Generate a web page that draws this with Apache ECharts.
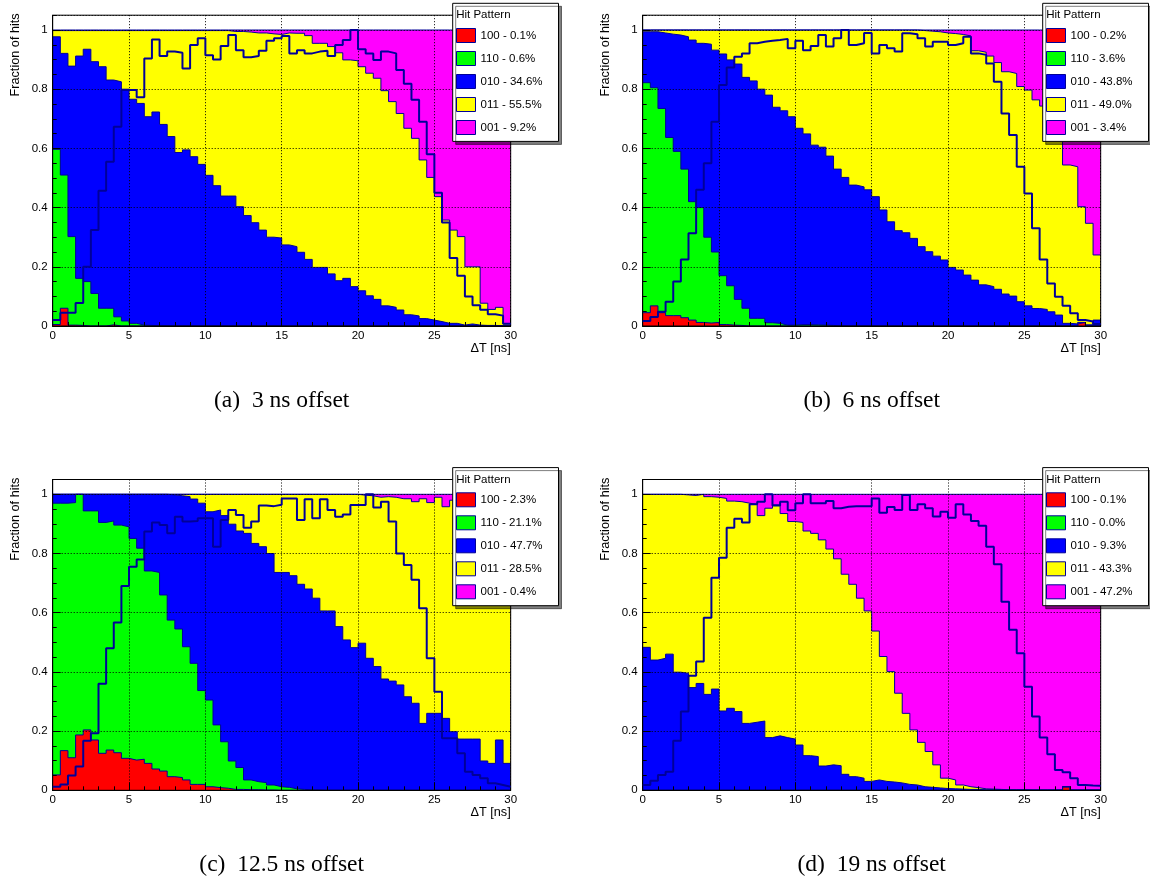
<!DOCTYPE html>
<html><head><meta charset="utf-8">
<script src="https://cdn.jsdelivr.net/npm/echarts@6/dist/echarts.min.js"></script>
<style>html,body{margin:0;padding:0;background:#fff}#c{width:1150px;height:879px}</style>
</head><body><div id="c"></div>
<script>
// ---------------- data (fractions of hits per 0.5 ns bin, 0..30 ns) ----------------
// Cumulative stack levels: cumXXX = fraction of hits whose
// pattern is XXX or any pattern stacked below it (100 < 110 < 010 < 011 < 001).
const binWidth = 0.5;
const xTickValues = [0, 5, 10, 15, 20, 25, 30];
const yTickValues = [0, 0.2, 0.4, 0.6, 0.8, 1];
const patterns = ['100', '110', '010', '011', '001'];

const allHits = [1,1,1,1,1,1,1,1,1,1, 1,1,1,1,1,1,1,1,1,1, 1,1,1,1,1,1,1,1,1,1, 1,1,1,1,1,1,1,1,1,1, 1,1,1,1,1,1,1,1,1,1, 1,1,1,1,1,1,1,1,1,1];

// (a) 3 ns offset
const a_labels = ['100 - 0.1%', '110 - 0.6%', '010 - 34.6%', '011 - 55.5%', '001 - 9.2%'];
const a_cum100 = [0.005,0.06,0.003,0.002,0,0,0,0.004,0,0, 0,0,0,0,0,0,0,0,0,0, 0,0,0,0,0,0,0,0,0,0, 0,0,0,0,0,0,0,0,0,0, 0,0,0,0,0,0,0,0,0,0, 0,0,0,0,0,0,0,0,0,0];
const a_cum110 = [0.597,0.51,0.302,0.161,0.15,0.11,0.06,0.06,0.031,0.017, 0.009,0.003,0.002,0.001,0.001,0,0,0,0,0, 0,0,0,0,0,0,0,0,0,0, 0,0,0,0,0,0,0,0,0,0, 0,0,0,0,0,0,0,0,0,0, 0,0,0,0,0,0,0,0,0,0];
const a_cum010 = [0.977,0.921,0.878,0.912,0.935,0.893,0.876,0.831,0.825,0.8, 0.766,0.752,0.707,0.723,0.681,0.64,0.586,0.595,0.572,0.546, 0.509,0.474,0.439,0.439,0.403,0.373,0.349,0.324,0.3,0.297, 0.274,0.268,0.249,0.225,0.198,0.198,0.176,0.153,0.161,0.133, 0.119,0.102,0.09,0.068,0.063,0.054,0.038,0.034,0.025,0.02, 0.015,0.009,0.009,0.003,0.007,0.003,0.002,0.002,0.001,0.001];
const a_cum011 = [0.998,0.998,0.998,0.998,0.998,0.998,0.998,0.998,0.998,0.998, 0.998,0.998,0.998,0.998,0.998,0.998,0.998,0.998,0.998,0.998, 0.998,0.998,0.998,0.995,0.995,0.993,0.99,0.99,0.987,0.985, 0.99,0.989,0.989,0.981,0.955,0.955,0.944,0.923,0.899,0.896, 0.876,0.854,0.837,0.795,0.758,0.718,0.668,0.634,0.561,0.502, 0.437,0.358,0.324,0.302,0.2,0.2,0.077,0.056,0.063,0.007];
const a_eff = [0.02,0.045,0.045,0.078,0.2,0.324,0.457,0.555,0.673,0.797, 0.797,0.773,0.904,0.968,0.912,0.927,0.923,0.87,0.949,0.972, 0.915,0.9,0.946,0.983,0.932,0.908,0.912,0.93,0.964,0.972, 0.98,0.921,0.932,0.921,0.927,0.93,0.912,0.949,0.966,1.0, 0.935,0.921,0.899,0.927,0.921,0.865,0.818,0.764,0.69,0.58, 0.45,0.35,0.23,0.17,0.1,0.07,0.055,0.04,0.035,0.008];

// (b) 6 ns offset
const b_labels = ['100 - 0.2%', '110 - 3.6%', '010 - 43.8%', '011 - 49.0%', '001 - 3.4%'];
const b_cum100 = [0.045,0.068,0.045,0.035,0.035,0.028,0.02,0.012,0.01,0.012, 0.005,0.003,0.002,0,0,0,0,0,0,0, 0,0,0,0,0,0,0,0,0,0, 0,0,0,0,0,0,0,0,0,0, 0,0,0,0,0,0,0,0,0,0, 0,0,0,0,0,0,0,0.012,0,0];
const b_cum110 = [0.822,0.805,0.735,0.637,0.59,0.53,0.42,0.4,0.3,0.25, 0.17,0.136,0.09,0.06,0.026,0.026,0.011,0.009,0.003,0.003, 0.005,0.005,0.004,0.003,0.002,0,0,0,0,0, 0,0,0,0,0,0,0,0,0,0, 0,0,0,0,0,0,0,0,0,0, 0,0,0,0,0,0,0,0.012,0,0];
const b_cum010 = [0.994,0.994,0.99,0.986,0.983,0.977,0.966,0.955,0.952,0.932, 0.919,0.899,0.885,0.84,0.828,0.8,0.78,0.739,0.727,0.707, 0.668,0.649,0.611,0.604,0.574,0.53,0.502,0.476,0.47,0.46, 0.437,0.392,0.352,0.322,0.315,0.296,0.268,0.251,0.236,0.223, 0.198,0.189,0.172,0.155,0.139,0.133,0.124,0.108,0.101,0.082, 0.068,0.059,0.056,0.048,0.037,0.009,0.007,0.012,0.004,0.02];
const b_cum011 = [1,1,1,1,1,1,1,1,1,1, 1,1,1,1,1,1,1,1,1,1, 1,1,1,1,1,1,1,1,1,1, 1,1,1,1,1,1,0.998,0.996,0.994,0.99, 0.988,0.985,0.98,0.93,0.925,0.912,0.89,0.859,0.853,0.809, 0.797,0.764,0.743,0.736,0.696,0.544,0.538,0.403,0.347,0.24];
const b_eff = [0.017,0.03,0.048,0.082,0.15,0.225,0.313,0.46,0.55,0.69, 0.814,0.873,0.91,0.921,0.955,0.96,0.964,0.966,0.97,0.938, 0.964,0.932,0.946,0.983,0.944,0.972,1.0,0.949,0.955,0.99, 0.921,0.949,0.938,0.927,0.989,0.986,0.972,0.944,0.96,0.96, 0.949,0.955,0.977,0.921,0.916,0.887,0.825,0.718,0.645,0.538, 0.448,0.33,0.225,0.144,0.099,0.068,0.043,0.02,0.015,0.007];

// (c) 12.5 ns offset
const c_labels = ['100 - 2.3%', '110 - 21.1%', '010 - 47.7%', '011 - 28.5%', '001 - 0.4%'];
const c_cum100 = [0.052,0.134,0.11,0.187,0.204,0.17,0.125,0.136,0.127,0.108, 0.102,0.105,0.091,0.072,0.065,0.046,0.043,0.035,0.02,0.02, 0.012,0.009,0.007,0.003,0.003,0.002,0.002,0.001,0.001,0, 0,0,0,0,0,0,0,0,0,0, 0,0,0,0,0,0,0,0,0,0, 0,0,0,0,0,0,0,0,0,0];
const c_cum110 = [0.97,0.97,0.972,1.0,0.944,0.944,0.905,0.91,0.896,0.89, 0.851,0.818,0.741,0.736,0.66,0.575,0.545,0.485,0.429,0.337, 0.305,0.221,0.164,0.099,0.077,0.035,0.029,0.026,0.018,0.012, 0.01,0.005,0.003,0.002,0.001,0,0,0,0,0, 0,0,0,0,0,0,0,0,0,0, 0,0,0,0,0,0,0,0,0,0];
const c_cum010 = [1,1,1,1,1,1,1,1,1,1, 1,1,1,1,1,0.998,0.995,0.992,0.984,0.97, 0.941,0.947,0.928,0.899,0.876,0.868,0.834,0.823,0.8,0.736, 0.736,0.725,0.696,0.68,0.649,0.606,0.606,0.553,0.508,0.482, 0.497,0.446,0.418,0.376,0.369,0.356,0.316,0.294,0.226,0.26, 0.26,0.243,0.198,0.173,0.173,0.173,0.099,0.091,0.17,0.091];
const c_cum011 = [1,1,1,1,1,1,1,1,1,1, 1,1,1,1,1,1,1,1,1,1, 1,1,1,1,1,1,1,1,1,1, 1,1,1,1,1,1,1,1,1,1, 0.997,0.995,0.99,0.992,0.99,0.985,0.985,0.975,0.985,0.972, 0.99,0.958,0.98,0.99,0.995,0.995,1,1,1,1];
const c_eff = [0.012,0.02,0.05,0.08,0.167,0.193,0.36,0.48,0.567,0.69, 0.755,0.78,0.874,0.905,0.896,0.868,0.924,0.908,0.91,0.919, 0.919,0.823,0.913,0.947,0.93,0.887,0.908,0.962,0.96,0.965, 0.986,0.986,0.913,0.983,0.919,0.983,0.947,0.924,0.932,0.964, 0.964,1.0,0.955,0.975,0.908,0.8,0.761,0.711,0.615,0.446, 0.333,0.176,0.176,0.125,0.063,0.052,0.041,0.024,0.018,0.012];

// (d) 19 ns offset
const d_labels = ['100 - 0.1%', '110 - 0.0%', '010 - 9.3%', '011 - 43.3%', '001 - 47.2%'];
const d_cum100 = [0,0,0,0,0,0,0,0,0,0, 0,0,0,0,0,0,0,0,0,0, 0,0,0,0,0,0,0,0,0,0, 0,0,0,0,0,0,0,0,0,0, 0,0,0,0,0,0,0,0,0,0, 0,0,0,0,0,0.012,0,0,0,0];
const d_cum110 = [0,0,0,0,0,0,0,0,0,0, 0,0,0,0,0,0,0,0,0,0, 0,0,0,0,0,0,0,0,0,0, 0,0,0,0,0,0,0,0,0,0, 0,0,0,0,0,0,0,0,0,0, 0,0,0,0,0,0.012,0,0,0,0];
const d_cum010 = [0.483,0.44,0.446,0.46,0.399,0.395,0.347,0.361,0.324,0.342, 0.268,0.277,0.266,0.226,0.23,0.234,0.178,0.184,0.178,0.173, 0.153,0.117,0.114,0.082,0.086,0.083,0.054,0.046,0.041,0.03, 0.035,0.03,0.028,0.025,0.02,0.018,0.012,0.01,0.008,0.006, 0.005,0.004,0.003,0.003,0.002,0.002,0.002,0.001,0.001,0.001, 0.001,0.001,0.001,0.001,0.001,0.012,0.001,0.001,0.001,0.001];
const d_cum011 = [1,1,1,1,1,0.998,0.996,1,0.992,0.99, 0.986,0.977,0.975,0.97,0.966,0.928,0.953,0.964,0.935,0.908, 0.905,0.876,0.868,0.846,0.815,0.782,0.73,0.696,0.649,0.606, 0.538,0.452,0.401,0.328,0.26,0.204,0.162,0.131,0.086,0.041, 0.035,0.018,0.012,0.009,0.005,0.004,0.003,0.002,0.002,0.002, 0.001,0.001,0.001,0.001,0.001,0.012,0.001,0.001,0.001,0.001];
const d_eff = [0.018,0.032,0.052,0.063,0.167,0.266,0.387,0.435,0.583,0.718, 0.786,0.887,0.917,0.905,0.966,0.975,1.0,0.962,0.975,0.946, 0.97,1.0,0.97,0.97,0.977,0.953,0.958,0.96,0.96,0.96, 0.986,0.938,0.957,0.947,0.998,0.947,0.966,0.953,0.925,0.941, 0.921,0.966,0.932,0.91,0.894,0.823,0.764,0.637,0.542,0.463, 0.35,0.249,0.178,0.122,0.069,0.061,0.041,0.018,0.016,0.015];

const captions = ['(a)  3 ns offset', '(b)  6 ns offset', '(c)  12.5 ns offset', '(d)  19 ns offset'];

// ---------------- chart ----------------
const panels = [
  { labels: a_labels, levels: [a_cum100, a_cum110, a_cum010, a_cum011, allHits], eff: a_eff },
  { labels: b_labels, levels: [b_cum100, b_cum110, b_cum010, b_cum011, allHits], eff: b_eff },
  { labels: c_labels, levels: [c_cum100, c_cum110, c_cum010, c_cum011, allHits], eff: c_eff },
  { labels: d_labels, levels: [d_cum100, d_cum110, d_cum010, d_cum011, allHits], eff: d_eff }
];
const FILL = ['#ff0000', '#00ff00', '#0000ff', '#ffff00', '#ff00ff'];
const OUTLINE = '#000099';
const FONT = '"Liberation Sans", Arial, Helvetica, sans-serif';
const GRID_W = 458, GRID_H = 310.8;
const pos = [
  { left: 52.7, top: 15.2 }, { left: 642.7, top: 15.2 },
  { left: 52.7, top: 479.5 }, { left: 642.7, top: 479.5 }
];

function toSteps(vals) {
  const pts = vals.map((v, i) => [i * binWidth, v]);
  pts.push([vals.length * binWidth, vals[vals.length - 1]]);
  return pts;
}

const grid = [], xAxis = [], yAxis = [], series = [], legend = [], graphic = [];
const xMin = xTickValues[0], xMax = xTickValues[xTickValues.length - 1];
const xInt = xTickValues[1] - xTickValues[0];
const yInt = yTickValues[1] - yTickValues[0];
const yTop = 1.05;

panels.forEach((p, gi) => {
  const P = pos[gi];
  grid.push({ left: P.left, top: P.top, width: GRID_W, height: GRID_H, show: true,
    borderColor: '#000', borderWidth: 1, backgroundColor: 'transparent', z: 5,
    containLabel: false, outerBoundsMode: 'none' });
  xAxis.push({ gridIndex: gi, type: 'value', min: xMin, max: xMax, interval: xInt, z: 6,
    axisLine: { show: true, onZero: false, lineStyle: { color: '#000', width: 1 } },
    axisTick: { show: true, inside: true, length: 8, lineStyle: { color: '#000', width: 1 } },
    minorTick: { show: true, splitNumber: 5, length: 4, lineStyle: { color: '#000', width: 1 } },
    axisLabel: { color: '#000', fontSize: 11.5, fontFamily: FONT, margin: 4 },
    splitLine: { show: true, lineStyle: { color: '#000', width: 1, type: [1, 2] } }
  });
  yAxis.push({ gridIndex: gi, type: 'value', min: 0, max: yTop, interval: yInt, z: 6, position: 'left',
    axisLine: { show: true, onZero: false, lineStyle: { color: '#000', width: 1 } },
    axisTick: { show: true, inside: true, length: 8, lineStyle: { color: '#000', width: 1 } },
    axisLabel: { color: '#000', fontSize: 11.5, fontFamily: FONT, margin: 5, showMaxLabel: false,
      formatter: v => (Math.abs(v - yTop) < 1e-9 ? '' : String(+v.toFixed(2))) },
    splitLine: { show: true, lineStyle: { color: '#000', width: 1, type: [1, 2] } }
  });
  // second left axis only for the 0.05 minor ticks
  yAxis.push({ gridIndex: gi, type: 'value', min: 0, max: yTop, interval: 0.05, z: 6, position: 'left', offset: 0,
    axisLine: { show: false }, axisLabel: { show: false }, splitLine: { show: false },
    axisTick: { show: true, inside: true, length: 4, lineStyle: { color: '#000', width: 1 } }
  });
  // stacked fractions: draw from the top level (001) down to 100
  for (let k = 4; k >= 0; k--) {
    series.push({ type: 'line', name: p.labels[k], xAxisIndex: gi, yAxisIndex: gi * 2,
      data: toSteps(p.levels[k]), step: 'end', symbol: 'none', showSymbol: false, silent: true,
      animation: false, z: 2, clip: true,
      itemStyle: { color: FILL[k] },
      lineStyle: { color: OUTLINE, width: 1 },
      areaStyle: { color: FILL[k], opacity: 1 },
      emphasis: { disabled: true }
    });
  }
  series.push({ type: 'line', name: 'efficiency', xAxisIndex: gi, yAxisIndex: gi * 2,
    data: toSteps(p.eff), step: 'end', symbol: 'none', showSymbol: false, silent: true,
    animation: false, z: 7, clip: true,
    lineStyle: { color: OUTLINE, width: 2 }, itemStyle: { color: OUTLINE },
    emphasis: { disabled: true }
  });
  const lx = P.left + 400, ly = P.top - 11.9;
  legend.push({ orient: 'vertical', left: lx, top: ly, z: 10, selectedMode: false,
    icon: 'rect', itemWidth: 19, itemHeight: 14, itemGap: 8,
    padding: [24.7, 16, 6.4, 3.3],
    backgroundColor: '#fff', borderColor: '#000', borderWidth: 1,
    shadowColor: 'rgba(0,0,0,0.5)', shadowOffsetX: 3, shadowOffsetY: 3, shadowBlur: 0,
    textStyle: { color: '#000', fontSize: 11.5, fontFamily: FONT },
    itemStyle: { borderColor: OUTLINE, borderWidth: 1 },
    data: p.labels.map((n, k) => ({ name: n, itemStyle: { color: FILL[k], borderColor: OUTLINE, borderWidth: 1 } }))
  });
  graphic.push({ type: 'text', x: lx + 3.5, y: ly + 12, z: 11,
    style: { text: 'Hit Pattern', font: '11.5px ' + FONT, fill: '#000', align: 'left', verticalAlign: 'middle' } });
  graphic.push({ type: 'text', x: P.left - 37.5, y: P.top - 1.9, rotation: Math.PI / 2, z: 11,
    style: { text: 'Fraction of hits', font: '12.7px ' + FONT, fill: '#000', align: 'right', verticalAlign: 'middle' } });
  graphic.push({ type: 'text', x: P.left + GRID_W, y: P.top + GRID_H + 22, z: 11,
    style: { text: 'ΔT [ns]', font: '12.7px ' + FONT, fill: '#000', align: 'right', verticalAlign: 'middle' } });
  graphic.push({ type: 'text', x: P.left + GRID_W / 2, y: P.top + GRID_H + 75, z: 11,
    style: { text: captions[gi], font: '23.5px "Liberation Serif", "Times New Roman", serif', fill: '#000', align: 'center', verticalAlign: 'middle' } });
});

const chart = echarts.init(document.getElementById('c'), null, { renderer: 'canvas', width: 1150, height: 879 });
chart.setOption({
  backgroundColor: '#fff', animation: false,
  grid, xAxis, yAxis, series, legend, graphic
});
</script>
</body></html>
